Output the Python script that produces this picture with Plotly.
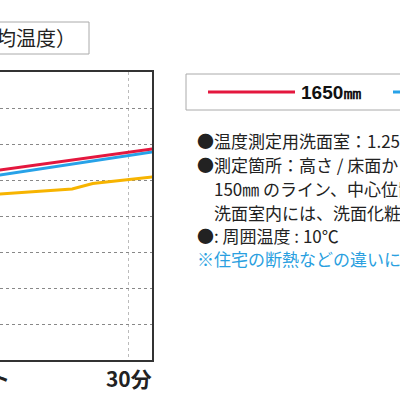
import plotly.graph_objects as go

# measured series (temperature, deg C) against elapsed minutes
minutes_red = [0, 30, 35]
temp_1650 = [25.9, 28.8, 29.35]

minutes_blue = [0, 30, 35]
temp_1000 = [25.15, 28.4, 28.95]

minutes_yellow = [0, 19, 23, 30, 35]
temp_150 = [22.8, 23.75, 24.5, 25.1, 25.45]

x_ticks = [0, 30]
x_tick_labels = ['スタート', '30分']

notes = [
    '●温度測定用洗面室：1.25坪タイプ',
    '●測定箇所：高さ / 床面から1650㎜',
    '　150㎜ のライン、中心位置',
    '　洗面室内には、洗面化粧台',
    '●: 周囲温度 : 10℃',
]
note_blue = '※住宅の断熱などの違いにより'

JP = 'Noto Sans CJK JP'

# plot area in pixels: x 0..152, y 72..360
def px(x):
    return x / 152.0

def py(y):
    return (360.0 - y) / 288.0

fig = go.Figure()

fig.add_trace(go.Scatter(x=minutes_yellow, y=temp_150, mode='lines',
                         line=dict(color='#f7b400', width=3), name='150㎜'))
fig.add_trace(go.Scatter(x=minutes_blue, y=temp_1000, mode='lines',
                         line=dict(color='#27a2e8', width=3), name='1000㎜'))
fig.add_trace(go.Scatter(x=minutes_red, y=temp_1650, mode='lines',
                         line=dict(color='#e4173e', width=3), name='1650㎜'))

fig.update_xaxes(range=[5, 34.5], tickvals=x_ticks, ticktext=x_tick_labels,
                 showgrid=True, gridcolor='#bbbbbb', griddash='dot', gridwidth=1,
                 showline=True, mirror=True, linecolor='#333333', linewidth=2,
                 ticks='', zeroline=False,
                 tickfont=dict(family=JP, size=21, color='#222222', weight='bold'))
fig.update_yaxes(range=[0, 40], dtick=5, side='right',
                 showgrid=True, gridcolor='#888888', griddash='dot', gridwidth=1,
                 showline=True, linecolor='#333333', linewidth=2,
                 showticklabels=False, ticks='', zeroline=False)

shapes = [
    # title box
    dict(type='rect', xref='paper', yref='paper', x0=px(-40), x1=px(89), y0=py(54), y1=py(22),
         line=dict(color='#aaaaaa', width=1)),
    # legend box
    dict(type='rect', xref='paper', yref='paper', x0=px(186), x1=px(430), y0=py(110), y1=py(74),
         line=dict(color='#aaaaaa', width=1)),
    dict(type='line', xref='paper', yref='paper', x0=px(208), x1=px(295), y0=py(92), y1=py(92),
         line=dict(color='#e4173e', width=3)),
    dict(type='line', xref='paper', yref='paper', x0=px(393), x1=px(430), y0=py(92), y1=py(92),
         line=dict(color='#27a2e8', width=3)),
]

annotations = [
    dict(text='（平均温度）', xref='paper', yref='paper', x=px(78), y=py(38),
         xanchor='right', yanchor='middle', showarrow=False,
         font=dict(family=JP, size=20, color='#222222')),
    dict(text='スタート', xref='paper', yref='paper', x=px(12), y=py(377),
         xanchor='right', yanchor='middle', showarrow=False,
         font=dict(family=JP, size=21, color='#222222', weight='bold')),
    dict(text='1650㎜', xref='paper', yref='paper', x=px(299), y=py(92),
         xanchor='left', yanchor='middle', showarrow=False,
         font=dict(family='Liberation Sans', size=19, color='#111111', weight='bold')),
]

note_y = [140, 164, 188, 212, 235]
for txt, yy in zip(notes, note_y):
    annotations.append(dict(text=txt, xref='paper', yref='paper', x=px(195), y=py(yy),
                            xanchor='left', yanchor='middle', showarrow=False,
                            font=dict(family=JP, size=17, color='#222222')))
annotations.append(dict(text=note_blue, xref='paper', yref='paper', x=px(195), y=py(258),
                        xanchor='left', yanchor='middle', showarrow=False,
                        font=dict(family=JP, size=17, color='#2a9fe0')))

fig.update_layout(
    width=400, height=400,
    margin=dict(l=0, r=248, t=72, b=40),
    plot_bgcolor='white', paper_bgcolor='white',
    showlegend=False,
    shapes=shapes,
    annotations=annotations,
)

# page body has a default 8px margin; drop it so the figure sits at the corner
fig.write_html('out.html', config={'displayModeBar': False},
               post_script="document.body.style.margin='0';")
